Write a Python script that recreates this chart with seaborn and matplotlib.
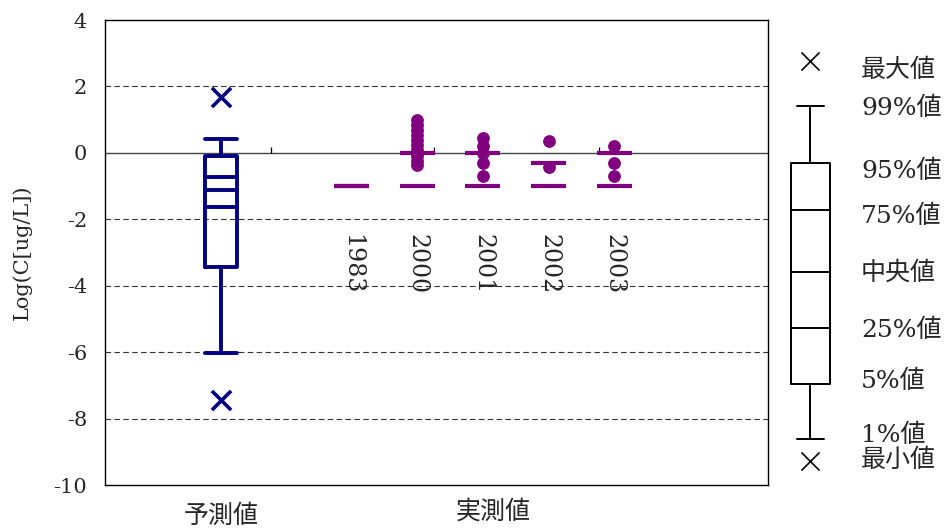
import matplotlib
matplotlib.use("Agg")
import numpy as np
import pandas as pd
import matplotlib.pyplot as plt
import seaborn as sns

# predicted distribution, log10 concentration (ug/L)
pred_names = ["min", "p1", "p5", "p25", "median", "p75", "p95", "p99", "max"]
pred_values = [-7.43, -6.04, -3.43, -1.62, -1.12, -0.74, -0.10, 0.41, 1.67]

# measured values by survey year
years = ["1983", "2000", "2001", "2002", "2003"]
obs_upper = [-1.0, 0.0, 0.0, -0.32, 0.0]
obs_lower = [-1.0, -1.0, -1.0, -1.0, -1.0]
obs_year = (["2000"] * 11) + (["2001"] * 5) + (["2002"] * 2) + (["2003"] * 3)
obs_value = [1.0, 0.85, 0.7, 0.55, 0.4, 0.25, 0.1, 0.0, -0.1, -0.25, -0.37,
             0.44, 0.2, 0.0, -0.3, -0.7,
             0.36, -0.44,
             0.2, -0.3, -0.7]

# key (legend) labels
key_labels = ["最大値", "99%値", "95%値", "75%値", "中央値", "25%値", "5%値", "1%値", "最小値"]

NAVY = "#000080"
PURPLE = "#800080"

sns.set_theme(style="white")
plt.rcParams["font.family"] = ["DejaVu Serif", "Noto Sans CJK JP"]
plt.rcParams["axes.unicode_minus"] = False

W, H = 951, 531
fig = plt.figure(figsize=(W / 100, H / 100), dpi=100)
ax = fig.add_axes([105 / W, 1 - 485 / H, 663 / W, 465 / H])

ax.set_xlim(0, 10)
ax.set_ylim(-10, 4)
ax.set_yticks(np.arange(-10, 5, 2))
ax.set_xticks([])
ax.tick_params(axis="y", length=0, pad=13, labelsize=15)
for s in ax.spines.values():
    s.set_color("black")
    s.set_linewidth(1.0)
for g in [-8, -6, -4, -2, 2]:
    ax.axhline(g, color="#333333", lw=0.8, linestyle=(0, (5, 3)), zorder=0)
ax.axhline(0, color="#444444", lw=1.0, zorder=1)
ax.vlines([2.5, 4.96, 7.45], 0, 0.18, color="black", lw=0.9, zorder=1)

# predicted box: box spans 5%-95%, inner lines 25/50/75%, whiskers 1%-99%
pv = dict(zip(pred_names, pred_values))
box_x = 1.75
box_w = 0.49
box_style = dict(color=NAVY, lw=2.8)
ax.bxp([{"med": pv["median"], "q1": pv["p5"], "q3": pv["p95"],
         "whislo": pv["p1"], "whishi": pv["p99"], "fliers": []}],
       positions=[box_x], widths=box_w, capwidths=box_w, showfliers=False,
       boxprops=box_style, whiskerprops=box_style, capprops=box_style,
       medianprops=box_style, manage_ticks=False)
ax.hlines([pv["p25"], pv["p75"]], box_x - box_w / 2, box_x + box_w / 2, **box_style)
sns.scatterplot(x=[box_x, box_x], y=[pv["min"], pv["max"]], marker="x", s=190,
                color=NAVY, linewidth=2.6, ax=ax, zorder=3)

# measured values
year_x = {y: 3.72 + i * 0.99 for i, y in enumerate(years)}
obs = pd.DataFrame({"year": obs_year, "value": obs_value})
obs["x"] = obs["year"].map(year_x)
xs = np.array([year_x[y] for y in years])
ax.hlines(obs_lower, xs - 0.265, xs + 0.265, color=PURPLE, lw=3, zorder=3)
ax.hlines(obs_upper, xs - 0.265, xs + 0.265, color=PURPLE, lw=3, zorder=3)
sns.scatterplot(data=obs, x="x", y="value", color=PURPLE, s=85, linewidth=0,
                ax=ax, zorder=4)
for y, x in year_x.items():
    ax.text(x, -2.45, y, rotation=270, ha="center", va="top", fontsize=17)

ax.set_xlabel("")
ax.set_ylabel("Log(C[ug/L])", fontsize=15)
ax.yaxis.set_label_coords((32 - 105) / 663, 0.5)
ax.text(box_x, -0.066, "予測値", transform=ax.get_xaxis_transform(),
        ha="center", va="center", fontsize=18)
ax.text(5.85, -0.058, "実測値", transform=ax.get_xaxis_transform(),
        ha="center", va="center", fontsize=18)

# key panel drawn in pixel coordinates
kax = fig.add_axes([0, 0, 1, 1])
kax.set_xlim(0, W)
kax.set_ylim(H, 0)
kax.axis("off")
key_y = [60.7, 106, 163.3, 210, 271.7, 328.3, 384, 439, 460.7]
key_text_y = [70, 108, 171.7, 216.7, 273, 330, 381.7, 435, 460]
kx = 810.4
kstyle = dict(color="black", lw=1.4)
kax.bxp([{"med": key_y[4], "q1": key_y[6], "q3": key_y[2],
          "whislo": key_y[7], "whishi": key_y[1], "fliers": []}],
        positions=[kx], widths=39, capwidths=27, showfliers=False,
        boxprops=kstyle, whiskerprops=kstyle, capprops=kstyle,
        medianprops=kstyle, manage_ticks=False)
kax.hlines([key_y[3], key_y[5]], kx - 19.5, kx + 19.5, **kstyle)
kax.scatter([kx, kx], [key_y[0], key_y[8]], marker="x", s=170, color="black", linewidths=1.2)
for lab, ty in zip(key_labels, key_text_y):
    kax.text(861, ty, lab, ha="left", va="center", fontsize=18)

fig.savefig("out.png", dpi=100)
